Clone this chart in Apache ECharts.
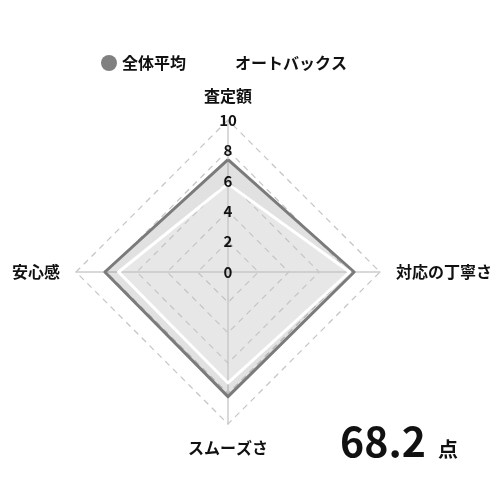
<!DOCTYPE html>
<html><head><meta charset="utf-8">
<script src="https://cdn.jsdelivr.net/npm/echarts@6/dist/echarts.min.js"></script>
<style>html,body{margin:0;padding:0;background:#fff}#c{width:500px;height:500px}</style>
</head><body><div id="c"></div>
<script>
const indicatorNames = ['査定額', '安心感', 'スムーズさ', '対応の丁寧さ'];
const seriesNames = ['全体平均', 'オートバックス'];
const averageValues = [7.4, 8.1, 8.2, 8.3];
const autobacsValues = [5.8, 7.2, 7.3, 8.0];
const maxValue = 10;
const score = 68.2;
const scoreUnit = '点';
const FONT = '"Noto Sans CJK JP", "Noto Sans", sans-serif';

const tickLabel = {show: true, color: '#111', fontSize: 15, fontWeight: 'bold', fontFamily: FONT,
  margin: 0, align: 'center', verticalAlign: 'middle'};

const chart = echarts.init(document.getElementById('c'), null, {renderer: 'canvas'});
const commonRadar = {center: [228, 272], radius: 152, startAngle: 90, shape: 'polygon', splitNumber: 5};
chart.setOption({
  animation: false,
  textStyle: {fontFamily: FONT},
  legend: {
    data: seriesNames,
    top: 50, left: 96,
    icon: 'circle', itemWidth: 16, itemHeight: 16, itemGap: 28,
    textStyle: {fontFamily: FONT, fontSize: 16, fontWeight: 'bold', color: '#111'}
  },
  title: {
    text: '{a|' + score + '}{b|' + scoreUnit + '}',
    left: 335, top: 416,
    textStyle: {
      rich: {
        a: {fontFamily: FONT, fontSize: 41, fontWeight: 'bold', color: '#111'},
        b: {fontFamily: FONT, fontSize: 20, fontWeight: 'bold', color: '#111', padding: [16, 0, 0, 12]}
      }
    }
  },
  radar: [
    Object.assign({}, commonRadar, {
      nameGap: 16,
      axisName: {color: '#111', fontSize: 16, fontWeight: 'bold', fontFamily: FONT},
      indicator: indicatorNames.map(n => ({name: n, min: 0, max: maxValue})),
      axisLabel: {show: false},
      axisLine: {lineStyle: {color: '#cccccc', width: 1.5}},
      splitLine: {lineStyle: {color: '#c4c4c4', type: [6, 5], width: 1.2}},
      splitArea: {show: false}
    }),
    Object.assign({}, commonRadar, {
      z: 10,
      axisName: {show: false},
      indicator: indicatorNames.map((n, i) => ({
        name: n, min: 0, max: maxValue,
        axisLabel: i === 0 ? tickLabel : {show: false}
      })),
      axisLabel: {show: false},
      axisLine: {show: false},
      axisTick: {show: false},
      splitLine: {show: false},
      splitArea: {show: false}
    })
  ],
  series: [{
    type: 'radar',
    radarIndex: 0,
    symbol: 'none',
    data: [
      {name: seriesNames[0], value: averageValues,
        itemStyle: {color: '#808080'},
        lineStyle: {color: '#7a7a7a', width: 3},
        areaStyle: {color: 'rgba(128,128,128,0.34)'}},
      {name: seriesNames[1], value: autobacsValues,
        itemStyle: {color: '#ffffff'},
        lineStyle: {color: '#ffffff', width: 3},
        areaStyle: {color: 'rgba(255,255,255,0.3)'}}
    ]
  }]
});
</script></body></html>
